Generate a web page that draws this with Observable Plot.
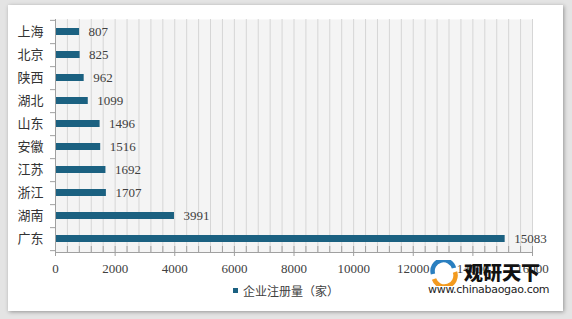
<!DOCTYPE html>
<html>
<head>
<meta charset="utf-8">
<script src="https://cdn.jsdelivr.net/npm/d3@7"></script>
<script src="https://cdn.jsdelivr.net/npm/@observablehq/plot@0.6"></script>
<style>
  html, body { margin: 0; padding: 0; }
  body { width: 572px; height: 319px; background: #e4e4e4; position: relative; overflow: hidden; font-family: "Noto Sans CJK SC", sans-serif; }
  #card { position: absolute; left: 8px; top: 5px; width: 555px; height: 306px; background: #fff; box-shadow: 1px 1px 4px rgba(0,0,0,0.35); }
  #chart svg { display: block; }
  #legend { position: absolute; left: 233px; top: 282px; font-size: 12px; color: #404040; display: flex; align-items: center; gap: 5px; }
  #legend .sw { width: 5px; height: 5px; background: #1b6181; }
  #wm { position: absolute; left: 428px; top: 259px; width: 120px; height: 40px; }
  #wm .t1 { position: absolute; left: 36px; top: 0px; font-size: 19px; font-weight: 900; color: #111; font-family: "Noto Sans CJK SC", sans-serif; line-height: 26px; }
  #wm .t2 { position: absolute; left: 0px; top: 24px; font-size: 11px; color: #222; font-family: "DejaVu Sans", sans-serif; line-height: 14px; letter-spacing: -0.3px; }
  #wm svg { position: absolute; left: 1px; top: 1px; }
</style>
</head>
<body>
<div id="card"><div id="chart"></div></div>
<div id="legend"><div class="sw"></div><span>企业注册量（家）</span></div>
<div id="wm">
  <svg width="30" height="26" viewBox="0 0 30 26">
    <path d="M4 14 A10 10 0 0 1 25 8" fill="none" stroke="#2a7fc0" stroke-width="4.5"/>
    <path d="M26 12 A10 10 0 0 1 5 19" fill="none" stroke="#f39a1e" stroke-width="4.5"/>
  </svg>
  <div class="t1">观研天下</div>
  <div class="t2">www.chinabaogao.com</div>
</div>
<script>
const names = ["上海","北京","陕西","湖北","山东","安徽","江苏","浙江","湖南","广东"];
const values = [807, 825, 962, 1099, 1496, 1516, 1692, 1707, 3991, 15083];
const majorTicks = [0, 2000, 4000, 6000, 8000, 10000, 12000, 14000, 16000];
const minorTicks = d3.range(0, 16001, 400);

const data = names.map((name, i) => ({name, value: values[i]}));

const W = 555, H = 270, mT = 14, mB = 23, mL = 47, mR = 31;
const step = (H - mT - mB) / names.length;
const pIn = 0.68;
const axisColor = "#a0a0a0";
const numFont = "'Liberation Serif', 'Times New Roman', serif";

const chart = Plot.plot({
  width: W,
  height: H,
  marginTop: mT,
  marginBottom: mB,
  marginLeft: mL,
  marginRight: mR,
  style: {background: "transparent", color: "#404040", fontSize: "13px"},
  x: {domain: [0, 16000], label: null},
  y: {domain: names, paddingInner: pIn, paddingOuter: pIn / 2, label: null},
  marks: [
    Plot.frame({fill: "#f4f4f4", stroke: null}),
    Plot.gridX(minorTicks, {stroke: "#d6d6d6", strokeOpacity: 1}),
    Plot.barX(data, {x: "value", y: "name", fill: "#1b6181"}),
    Plot.text(data, {x: "value", y: "name", text: d => String(d.value), textAnchor: "start", dx: 9, fill: "#404040", fontSize: 13, fontFamily: numFont}),
    Plot.frame({anchor: "bottom", stroke: axisColor}),
    Plot.frame({anchor: "left", stroke: axisColor}),
    Plot.axisX(minorTicks, {tickSize: 6, dy: -6, tickFormat: () => "", stroke: axisColor, label: null}),
    Plot.axisX(majorTicks, {tickSize: 4, tickPadding: 7, stroke: axisColor, fill: "#404040", fontSize: 13, fontFamily: numFont, tickFormat: d => String(d), label: null}),
    Plot.axisY(names, {tickSize: 0, tickPadding: 12, fill: "#333", fontSize: 13, fontFamily: "'Noto Sans CJK SC', sans-serif", label: null}),
    Plot.axisY(names, {tickSize: 5, dy: step / 2, tickFormat: () => "", stroke: axisColor, label: null}),
    Plot.axisY([names[0]], {tickSize: 5, dy: -step / 2, tickFormat: () => "", stroke: axisColor, label: null})
  ]
});
document.getElementById("chart").appendChild(chart);
</script>
</body>
</html>
